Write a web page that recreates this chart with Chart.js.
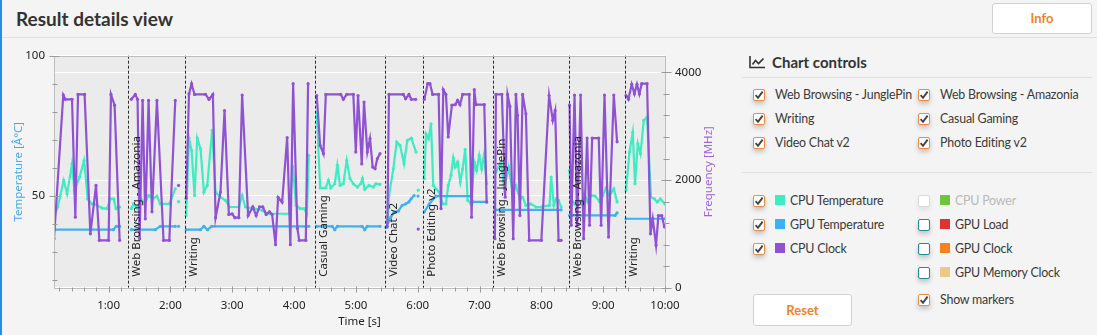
<!DOCTYPE html>
<html lang="en">
<head>
<meta charset="utf-8">
<title>Result details view</title>
<script src="https://cdn.jsdelivr.net/npm/chart.js@4.4.1/dist/chart.umd.min.js"></script>
<style>
  html, body { margin: 0; padding: 0; }
  body {
    position: relative; width: 1097px; height: 335px; overflow: hidden;
    background: #f4f4f4; font-family: Lato, "Open Sans", sans-serif; color: #3a3a3a;
  }
  .edge { position: absolute; left: 0; top: 0; width: 2px; height: 335px; background: #2b8be6; z-index: 2; }
  h1 { position: absolute; left: 16px; top: 7px; margin: 0; font-size: 19px; line-height: 23px; font-weight: 700; color: #333; }
  .rule { position: absolute; height: 1px; background: #e0e0e0; }
  .btn {
    position: absolute; box-sizing: border-box; background: #fff; border: 1px solid #d2d2d2; border-radius: 3px;
    color: #f5821f; font-weight: 700; font-size: 13px; text-align: center;
  }
  #chartWrap { position: absolute; left: 0; top: 44px; width: 730px; height: 291px; }
  .panel-title { position: absolute; left: 772px; top: 53px; font-size: 15px; line-height: 18px; font-weight: 700; color: #333; }
  .icon { position: absolute; left: 749px; top: 56px; }
  .box {
    position: absolute; box-sizing: border-box; width: 12px; height: 12px; background: #fff;
    border: 1px solid #f08a3c; border-radius: 2px; box-shadow: 0 3px 5px rgba(0, 0, 0, 0.2);
  }
  .box.off { border-color: #1f8d9c; }
  .box.dis { border-color: #dadada; box-shadow: 0 3px 5px rgba(0, 0, 0, 0.08); }
  .box svg { position: absolute; left: 0; top: 0; }
  .lbl { position: absolute; font-size: 12.4px; letter-spacing: -0.2px; line-height: 16px; white-space: nowrap; color: #3a3a3a; }
  .lbl.dis { color: #b9b9b9; }
  .sw { position: absolute; width: 10px; height: 10px; }
</style>
</head>
<body>
<div class="edge"></div>
<h1>Result details view</h1>
<div class="rule" style="left:2px; top:37px; width:1095px;"></div>
<div class="btn" style="left:992px; top:3px; width:100px; height:31px; line-height:29px;">Info</div>

<div id="chartWrap"><canvas id="resultChart" width="730" height="291"></canvas></div>

<svg class="icon" width="17" height="13" viewBox="0 0 17 13">
  <path d="M1 0 V11.5 H16" fill="none" stroke="#333" stroke-width="1.6"/>
  <path d="M3.5 8.5 L6.5 4.5 L9.5 7.5 L14.5 2.5" fill="none" stroke="#333" stroke-width="1.6"/>
</svg>
<div class="panel-title">Chart controls</div>
<div class="rule" style="left:742px; top:77px; width:350px;"></div>
<div class="rule" style="left:742px; top:172px; width:350px;"></div>
<div id="controls"></div>
<div class="btn" style="left:753px; top:294px; width:99px; height:32px; line-height:30px;">Reset</div>

<script>
// Series colours
const CPU_TEMP = '#3eecc2';
const GPU_TEMP = '#3bb2f3';
const CPU_CLOCK = '#8f52d3';

// Task boundaries (s) and their names
const taskStart = [78.8, 133.7, 260.7, 328.6, 365.4, 433.3, 506.4, 560.7];
const taskName = ['Web Browsing - Amazonia', 'Writing', 'Casual Gaming', 'Video Chat v2',
    'Photo Editing v2', 'Web Browsing - JunglePin', 'Web Browsing - Amazonia', 'Writing'];

// Axis ticks
const tempTicks = [20, 30, 40, 50, 60, 70, 80, 90, 100];
const tempLabels = [50, 100];
const freqTicks = [0, 400, 800, 1200, 1600, 2000, 2400, 2800, 3200, 3600, 4000];
const freqLabels = [0, 2000, 4000];
const timeLabels = [60, 120, 180, 240, 300, 360, 420, 480, 540, 600];
const timeTicks = Array.from({ length: 50 }, (_, i) => (i + 1) * 12);

// CPU clock [time s, MHz]; a null value breaks the line between tasks
const cpuClock = [
    [7, 910], [16, 3580], [18, 3500], [24.5, 3500], [27.7, 1310], [30.3, 3590], [36.7, 3590], [42.3, 1000],
    [47.8, 1900], [51, 880], [60, 880], [62.3, 3590], [65.8, 3390], [70.7, 880], [75, null],
    [82, 3500], [85.9, 3590], [88.1, 3500], [90.1, 910], [93, 3480], [95.6, 1280], [98.8, 3480], [102.1, 1410],
    [106.9, 3480], [113.3, 880], [118.9, 880], [124.7, 3480], [126.3, null], [127.9, 1900], [130, null],
    [135.3, 1660], [138, 3600], [140.5, 3790], [143.4, 3590], [154.1, 3590], [157.4, 3500], [161.2, 3590],
    [163.8, 1300], [168.6, 1780], [172.5, 3290], [176.7, 1360], [179.9, 1370], [182.5, 1300], [186.4, 1300],
    [189.6, 3580], [195.4, 1340], [200, 1500], [203.2, 1340], [206.4, 1500], [209.7, 1500], [212.9, 1360],
    [216.1, 1410], [218.7, 1360], [222, 800], [224.5, 1680], [228.4, 1590], [233.3, 2790], [236.4, 800],
    [239.1, 3790], [243.2, 1100], [245, 880], [251.4, 880], [253.6, 3790], [258, null],
    [262, 3570], [265.3, 2640], [268.5, 2490], [270.8, 3590], [285.3, 3590], [287.8, 3500], [291.1, 3590],
    [297.5, 3590], [299.9, 2520], [302.1, 3570], [305.7, 2300], [307.9, 3450], [311.1, 2520], [313.7, 2770],
    [316.3, 2240], [318.6, 2210], [320.8, 2400], [323.4, 2490], [327, null],
    [330.5, 1130], [332.1, 3590], [346, 3590], [348.3, 3510], [351.5, 3590], [353.8, 3500], [358, 3500],
    [359.3, null], [360.5, 1090], [363, null],
    [366.4, 3500], [369.7, 3790], [371.9, 3790], [374.5, 3590], [380.3, 3590], [382.6, 1470], [384.8, 3680],
    [387.4, 3590], [389.6, 2800], [393.2, 3390], [396.4, 3400], [398.7, 3480], [401, 3400], [403.6, 3590],
    [410, 3590], [412.3, 1310], [414.9, 3680], [416.5, 3400], [424.6, 3400], [426.9, 1590], [431, null],
    [434.9, 910], [435.9, 3590], [441.7, 3590], [444.9, 1680], [447.2, 3590], [449.5, 3370], [452.7, 910],
    [455.3, 3590], [456.9, 3200], [459.2, 1340], [461.8, 3590], [465, 3230], [468.2, 880], [480, 880],
    [487.5, 3570], [491.1, 3110], [493.4, 3290], [496.7, 880], [499.2, 880], [503, null],
    [507.4, 3390], [509, 1160], [512.2, 3580], [514.8, 1160], [518.1, 3580], [521, 910], [524.4, 2780],
    [526.8, 1160], [529.3, 2780], [535.7, 2780], [538, 1160], [541.3, 3580], [545.2, 940], [550.3, 3580],
    [553.5, 2710], [558, null],
    [562.2, 3570], [564.5, 3500], [567.7, 3780], [570.3, 3600], [572.8, 3780], [575.1, 3600], [577.4, 3790],
    [582.6, 3790], [585.9, 1000], [588.1, 1280], [591.3, 790], [593.6, 1340], [596.8, 1340], [599.4, 1130]
];

// CPU temperature [time s, °C]
const cpuTemp = [
    [7.4, 43], [10.6, 46], [16.4, 55.5], [19.7, 50.7], [24.5, 61.4], [26.8, 51.9], [31.9, 56.7], [36.2, 62.6],
    [39.7, 48.9], [43.9, 47.1], [48.1, 46.8], [53.6, 45.6], [58.5, 45.4], [61.7, 48.9], [64.9, 48.9],
    [67.2, 45.4], [70.7, 46], [75, null],
    [82, 45.4], [84.2, 47.1], [88.1, 45.4], [91.4, 48.9], [94.9, 47.1], [98.8, 50.1], [102.7, 48.9],
    [106.9, 49.9], [110.1, 47.1], [118.9, 47.1], [124.7, 52.5], [126.3, null], [127.9, 47.9], [130, null],
    [135.3, 43], [138, 70.6], [140.5, 66.2], [143.4, 50.1], [146, 70.6], [149.2, 66.8], [152.5, 51.3],
    [155.7, 53.7], [160.5, 73.4], [163.8, 51.3], [168.6, 49.5], [173.4, 48.4], [177.3, 46], [186.4, 46],
    [189.6, 50.1], [192.8, 46], [201, 45.4], [209, 44.8], [213.9, 43.6], [235.2, 43.6], [238.8, 60.4],
    [241.9, 46.7], [245.9, 45.4], [249.7, 45.4], [252.4, 43.6], [254.3, 64.4], [258, null],
    [262, 79.9], [265.3, 52.8], [270.8, 52.8], [273.3, 55.5], [275.6, 52.8], [279.5, 54.3], [282, 60.9],
    [284.6, 53.7], [287.8, 54.3], [291.1, 62.6], [294.3, 56.1], [297.5, 54.3], [301.4, 53.1], [304.7, 54.3],
    [306.3, 56.1], [308.6, 52.3], [312.8, 53.7], [316.9, 53.1], [319.3, 54.3], [323.4, 54.1], [327, null],
    [330.9, 40.6], [332.1, 50.1], [336.3, 59.6], [339.6, 69.2], [342.8, 68], [346.7, 61.4], [349.9, 69.8],
    [353.8, 70.6], [358.4, 65.6], [359.4, null], [360.5, 52], [363, null],
    [366.4, 56.1], [368, 72.1], [370.6, 70.4], [372.9, 75.7], [375.1, 53.7], [377.7, 52.5], [380.9, 51.3],
    [384.2, 47.1], [387.4, 47.1], [389.6, 53.7], [392.3, 57.3], [394.5, 63.5], [396.4, 60.3], [398.7, 62],
    [401.3, 54.9], [403.6, 59.6], [406.1, 66.6], [408.5, 48.4], [411.7, 47.1], [414.9, 62], [417.2, 59.1],
    [419.7, 64.4], [422.1, 59.6], [424.6, 65], [426.9, 54.3], [431, null],
    [435.9, 58.5], [440.7, 62], [443.9, 52.5], [448.2, 60.2], [452.1, 51.3], [455.3, 53.7], [459.2, 48.9],
    [461.8, 49.5], [465, 46.6], [469.8, 47.1], [474.7, 46], [479.5, 46], [487.9, 46.6], [489.5, 56.7],
    [492.1, 46.6], [494.3, 48.9], [496.6, 48.4], [499.2, 46], [503, null],
    [507.3, 59.1], [508.9, 48.9], [512.2, 47.1], [515.4, 48.9], [518.6, 47.1], [521.9, 50.7], [525.1, 47.8],
    [528.3, 50.1], [532.2, 49.9], [536.4, 48], [539.6, 50.1], [542.8, 52.8], [546.1, 50.1], [550.3, 52.5],
    [553.5, 47.8], [558, null],
    [562.2, 51.9], [565.5, 65.6], [568.7, 72.7], [570.9, 54.3], [573.6, 68.6], [576.2, 65], [579.4, 76.9],
    [582.6, 78.1], [586.4, 49.5], [589.7, 48.9], [592.3, 47.8], [595.6, 48.9], [600, 47.1]
];

// GPU temperature [time s, °C]
const gpuTemp = [
    [7.4, 37.9], [64.6, 37.9], [67.5, 39.1], [70.7, 39.1], [75, null],
    [82, 37.9], [105.3, 37.9], [110.1, 39.1], [124.7, 39.1], [126.3, null], [127.9, 39.1], [130, null],
    [135.3, 37.9], [149.2, 37.9], [152.5, 39.1], [156, 37.9], [160, 39.1], [254.3, 39.1], [258, null],
    [262, 39.1], [277, 39.1], [279.5, 37.9], [282, 39.1], [306, 39.1], [308.6, 37.9], [311, 39.1],
    [323.4, 39.1], [327, null],
    [329.1, 38.7], [333.9, 42.4], [337, 44.2], [341, 44.5], [345, 46.6], [348.3, 47.1], [351.5, 47.8],
    [353.5, 48.9], [356.5, 50.1], [358.5, null], [360.3, 49.9], [363, null],
    [366.4, 44.2], [371.2, 47.1], [377.7, 49.9], [411.7, 49.9], [413.3, 47.8], [426.9, 47.8], [431, null],
    [434.9, 45], [499.2, 45], [503, null],
    [507.4, 43], [551.5, 43], [553.5, 43.9], [558, null],
    [562.2, 41.8], [600, 41.8]
];

// ---- right-hand control panel ----
const TICK_SVG = '<svg width="10" height="10" viewBox="0 0 10 10"><path d="M1.6 5.2 L4 7.8 L8.6 1.6" fill="none" stroke="#444" stroke-width="1.9"/></svg>';

function addControl(left, baseline, text, state, swatch) {
    const host = document.getElementById('controls');
    const box = document.createElement('div');
    box.className = 'box' + (state === 'on' ? '' : ' ' + state);
    box.style.left = left + 'px';
    box.style.top = (baseline - 10) + 'px';
    if (state === 'on') box.innerHTML = TICK_SVG;
    host.appendChild(box);

    let textLeft = left + 22;
    if (swatch) {
        const sw = document.createElement('div');
        sw.className = 'sw';
        sw.style.left = (left + 22) + 'px';
        sw.style.top = (baseline - 10) + 'px';
        sw.style.background = swatch;
        host.appendChild(sw);
        textLeft = left + 37;
    }
    const lbl = document.createElement('div');
    lbl.className = 'lbl' + (state === 'dis' ? ' dis' : '');
    lbl.style.left = textLeft + 'px';
    lbl.style.top = (baseline - 12.5) + 'px';
    lbl.textContent = text;
    host.appendChild(lbl);
}

addControl(753, 99.3, 'Web Browsing - JunglePin', 'on');
addControl(918, 99.3, 'Web Browsing - Amazonia', 'on');
addControl(753, 123.3, 'Writing', 'on');
addControl(918, 123.3, 'Casual Gaming', 'on');
addControl(753, 147.3, 'Video Chat v2', 'on');
addControl(918, 147.3, 'Photo Editing v2', 'on');

addControl(753, 205, 'CPU Temperature', 'on', CPU_TEMP);
addControl(753, 229, 'GPU Temperature', 'on', GPU_TEMP);
addControl(753, 253, 'CPU Clock', 'on', CPU_CLOCK);
addControl(918, 205, 'CPU Power', 'dis', '#6cc63c');
addControl(918, 229, 'GPU Load', 'off', '#dc3333');
addControl(918, 253, 'GPU Clock', 'off', '#f5821e');
addControl(918, 277, 'GPU Memory Clock', 'off', '#e9cb87');
addControl(918, 304.3, 'Show markers', 'on');

// ---- chart ----
const FONT = { family: '"Noto Sans", sans-serif', size: 11.5 };
const TEXT = '#222';

function toPoints(rows) {
    return rows.map(([x, y]) => ({ x, y }));
}

function clockLabel(v) {
    return Math.floor(v / 60) + ':' + String(v % 60).padStart(2, '0');
}

// keep the plot rectangle fixed: no extra room for overhanging end labels
function fixedSize(prop, size) {
    return s => {
        s[prop] = size;
        s.paddingTop = 0; s.paddingBottom = 0; s.paddingLeft = 0; s.paddingRight = 0;
    };
}

// Grey plot background, outer frame, tick marks and the right-hand title
const plotFrame = {
    id: 'plotFrame',
    beforeDraw(chart) {
        const { ctx, chartArea: a } = chart;
        ctx.save();
        ctx.fillStyle = '#ebebeb';
        ctx.fillRect(a.left, a.top, a.right - a.left, a.bottom - a.top);
        ctx.restore();
    },
    afterDraw(chart) {
        const { ctx, chartArea: a, scales } = chart;
        const L = Math.round(a.left) + 0.5, R = Math.round(a.right) + 0.5;
        const T = Math.round(a.top) + 0.5, B = Math.round(a.bottom) + 0.5;
        ctx.save();
        ctx.lineWidth = 1;
        ctx.strokeStyle = '#bdbdbd';
        ctx.strokeRect(L, T, R - L, B - T);

        ctx.strokeStyle = '#9a9a9a';
        ctx.beginPath();
        scales.temp.ticks.forEach(t => {
            const y = Math.round(scales.temp.getPixelForValue(t.value)) + 0.5;
            const major = tempLabels.includes(t.value);
            ctx.moveTo(L - (major ? 5 : 2), y);
            ctx.lineTo(L + (major ? 5 : 3), y);
        });
        scales.freq.ticks.forEach(t => {
            const y = Math.round(scales.freq.getPixelForValue(t.value)) + 0.5;
            const major = freqLabels.includes(t.value);
            ctx.moveTo(R - (major ? 4 : 2), y);
            ctx.lineTo(R + (major ? 6 : 4), y);
        });
        scales.x.ticks.forEach(t => {
            const x = Math.round(scales.x.getPixelForValue(t.value)) + 0.5;
            const major = timeLabels.includes(t.value);
            ctx.moveTo(x, B - (major ? 2 : 1));
            ctx.lineTo(x, B + (major ? 4 : 3));
        });
        ctx.stroke();

        // frequency axis title, read bottom to top
        ctx.fillStyle = '#a064dc';
        ctx.font = FONT.size + 'px ' + FONT.family;
        ctx.textAlign = 'center';
        ctx.textBaseline = 'middle';
        ctx.translate(709, (a.top + a.bottom) / 2);
        ctx.rotate(-Math.PI / 2);
        ctx.fillText('Frequency [MHz]', 0, 0);
        ctx.restore();
    }
};

// Dashed task boundaries with the task name written upwards
const taskMarkers = {
    id: 'taskMarkers',
    afterDatasetsDraw(chart) {
        const { ctx, chartArea: a, scales: { x } } = chart;
        ctx.save();
        ctx.strokeStyle = '#2a2a2a';
        ctx.lineWidth = 1;
        ctx.setLineDash([3, 2]);
        ctx.fillStyle = TEXT;
        ctx.font = FONT.size + 'px ' + FONT.family;
        ctx.textAlign = 'left';
        ctx.textBaseline = 'alphabetic';
        taskStart.forEach((t, i) => {
            const px = Math.round(x.getPixelForValue(t)) + 0.5;
            ctx.beginPath();
            ctx.moveTo(px, a.top);
            ctx.lineTo(px, a.bottom);
            ctx.stroke();
            ctx.save();
            ctx.translate(px + 11.5, a.bottom - 11);
            ctx.rotate(-Math.PI / 2);
            ctx.fillText(taskName[i], 0, 0);
            ctx.restore();
        });
        ctx.restore();
    }
};

function series(label, rows, color, axis, order) {
    return {
        label, data: toPoints(rows), yAxisID: axis, order,
        borderColor: color, backgroundColor: color, pointBackgroundColor: color,
        borderWidth: 2.2, tension: 0, pointRadius: 1.6, pointBorderWidth: 0, spanGaps: false
    };
}

new Chart(document.getElementById('resultChart'), {
    type: 'line',
    data: {
        datasets: [
            series('CPU Clock', cpuClock, CPU_CLOCK, 'freq', 0),
            series('GPU Temperature', gpuTemp, GPU_TEMP, 'temp', 1),
            series('CPU Temperature', cpuTemp, CPU_TEMP, 'temp', 2)
        ]
    },
    options: {
        responsive: false,
        animation: false,
        devicePixelRatio: 1,
        layout: { padding: { top: 11.7, left: 0, right: 0, bottom: 0 } },
        plugins: { legend: { display: false }, tooltip: { enabled: false } },
        scales: {
            x: {
                type: 'linear', min: 7, max: 600,
                afterBuildTicks: s => { s.ticks = timeTicks.map(v => ({ value: v })); },
                afterFit: fixedSize('height', 47.3),
                grid: { display: false, drawTicks: false },
                border: { display: false },
                ticks: {
                    autoSkip: false, maxRotation: 0, padding: 11, font: FONT, color: TEXT,
                    callback: v => timeLabels.includes(v) ? clockLabel(v) : ''
                },
                title: { display: true, text: 'Time [s]', font: FONT, color: TEXT, padding: { top: 0, bottom: 6 } }
            },
            temp: {
                type: 'linear', position: 'left', min: 17.2, max: 100,
                afterBuildTicks: s => { s.ticks = tempTicks.map(v => ({ value: v })); },
                afterFit: fixedSize('width', 54),
                grid: {
                    drawTicks: false,
                    color: c => (c.tick && tempLabels.includes(c.tick.value)) ? '#ffffff' : 'rgba(0,0,0,0)'
                },
                border: { display: false },
                ticks: {
                    padding: 9, font: FONT, color: TEXT,
                    callback: v => tempLabels.includes(v) ? String(v) : ''
                },
                title: { display: true, text: 'Temperature [Â°C]', font: FONT, color: '#46a9ec', padding: { top: 12, bottom: 0 } }
            },
            freq: {
                type: 'linear', position: 'right', min: 0, max: 4310,
                afterBuildTicks: s => { s.ticks = freqTicks.map(v => ({ value: v })); },
                afterFit: fixedSize('width', 65),
                grid: {
                    drawTicks: false,
                    color: c => (c.tick && freqLabels.includes(c.tick.value)) ? '#ffffff' : 'rgba(0,0,0,0)'
                },
                border: { display: false },
                ticks: {
                    padding: 10, font: FONT, color: TEXT,
                    callback: v => freqLabels.includes(v) ? String(v) : ''
                }
            }
        }
    },
    plugins: [plotFrame, taskMarkers]
});
</script>
</body>
</html>
